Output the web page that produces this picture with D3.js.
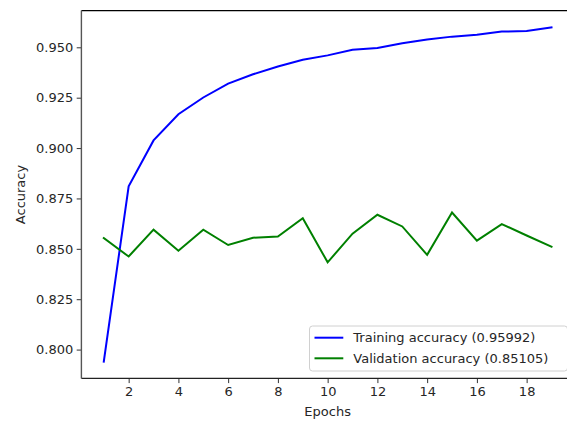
<!DOCTYPE html>
<html>
<head>
<meta charset="utf-8">
<script src="https://cdn.jsdelivr.net/npm/d3@7"></script>
<style>
  html, body { margin: 0; padding: 0; background: #fff; }
  svg { display: block; }
  text { font-family: "DejaVu Sans", sans-serif; fill: #262626; }
</style>
</head>
<body>
<svg id="chart" width="567" height="423"></svg>
<script>
// Accuracy per training epoch
const epochs = d3.range(1, 20);
const trainAcc = [0.7940, 0.8810, 0.9038, 0.9168, 0.9251, 0.9320, 0.9366, 0.9405, 0.9438, 0.9460,
                  0.9488, 0.9497, 0.9520, 0.9539, 0.9553, 0.9562, 0.9578, 0.9581, 0.95992];
const valAcc   = [0.8553, 0.8462, 0.8595, 0.8491, 0.8595, 0.8519, 0.8555, 0.8561, 0.8652, 0.8433,
                  0.8575, 0.8669, 0.8611, 0.8470, 0.8680, 0.8541, 0.8623, 0.8566, 0.85105];
const yTicks = [0.800, 0.825, 0.850, 0.875, 0.900, 0.925, 0.950];
const xTicks = [2, 4, 6, 8, 10, 12, 14, 16, 18];
const seriesNames = ["Training accuracy", "Validation accuracy"];
const seriesColors = ["#0000ff", "#008000"];

const svg = d3.select("#chart");
const plot = { left: 81.4, right: 573.9, top: 10.6, bottom: 378.4 };

// 5% padding around the data range on both axes
const xExt = d3.extent(epochs);
const xPad = (xExt[1] - xExt[0]) * 0.05;
const allY = trainAcc.concat(valAcc);
const yExt = d3.extent(allY);
const yPad = (yExt[1] - yExt[0]) * 0.05;

const x = d3.scaleLinear().domain([xExt[0] - xPad, xExt[1] + xPad]).range([plot.left, plot.right]);
const y = d3.scaleLinear().domain([yExt[0] - yPad, yExt[1] + yPad]).range([plot.bottom, plot.top]);

// Axes
const xAxis = d3.axisBottom(x).tickValues(xTicks).tickSize(4.7).tickPadding(3.5).tickFormat(d3.format("d"));
const yAxis = d3.axisLeft(y).tickValues(yTicks).tickSize(4.7).tickPadding(3.5).tickFormat(d3.format(".3f"));

const gx = svg.append("g").attr("transform", `translate(0,${plot.bottom})`).call(xAxis);
const gy = svg.append("g").attr("transform", `translate(${plot.left},0)`).call(yAxis);
[gx, gy].forEach(g => {
  g.select(".domain").remove();
  g.selectAll(".tick line").attr("stroke", "#333").attr("stroke-width", 1);
  g.selectAll(".tick text").attr("font-size", 13).attr("font-family", "DejaVu Sans, sans-serif").attr("fill", "#262626");
});

// Frame
svg.append("line").attr("x1", plot.left).attr("x2", plot.right).attr("y1", plot.top).attr("y2", plot.top)
  .attr("stroke", "#000").attr("stroke-width", 1.2);
svg.append("line").attr("x1", plot.left).attr("x2", plot.right).attr("y1", plot.bottom).attr("y2", plot.bottom)
  .attr("stroke", "#222").attr("stroke-width", 1.3);
svg.append("line").attr("x1", plot.left).attr("x2", plot.left).attr("y1", plot.top).attr("y2", plot.bottom)
  .attr("stroke", "#555").attr("stroke-width", 1.4);
svg.append("line").attr("x1", plot.right).attr("x2", plot.right).attr("y1", plot.top).attr("y2", plot.bottom)
  .attr("stroke", "#000").attr("stroke-width", 1.2);

// Lines
const line = d3.line().x((d, i) => x(epochs[i])).y(d => y(d));
[trainAcc, valAcc].forEach((vals, k) => {
  svg.append("path").datum(vals).attr("d", line)
    .attr("fill", "none").attr("stroke", seriesColors[k]).attr("stroke-width", 2)
    .attr("stroke-linejoin", "miter").attr("stroke-linecap", "square");
});

// Axis titles
svg.append("text").attr("x", (plot.left + plot.right) / 2).attr("y", 416)
  .attr("text-anchor", "middle").attr("font-size", 13).text("Epochs");
svg.append("text").attr("transform", `translate(24.5,${(plot.top + plot.bottom) / 2}) rotate(-90)`)
  .attr("text-anchor", "middle").attr("font-size", 13).text("Accuracy");

// Legend
const lastVals = [trainAcc[trainAcc.length - 1], valAcc[valAcc.length - 1]];
const lg = svg.append("g");
lg.append("rect").attr("x", 309.5).attr("y", 326).attr("width", 258).attr("height", 45)
  .attr("rx", 3).attr("fill", "#fff").attr("fill-opacity", 0.8).attr("stroke", "#d0d0d0").attr("stroke-width", 1);
seriesNames.forEach((name, k) => {
  const cy = 337.7 + k * 20.6;
  lg.append("line").attr("x1", 314.5).attr("x2", 343.3).attr("y1", cy).attr("y2", cy)
    .attr("stroke", seriesColors[k]).attr("stroke-width", 2);
  lg.append("text").attr("x", 353.3).attr("y", cy + 4.7).attr("font-size", 13)
    .text(`${name} (${d3.format(".5f")(lastVals[k])})`);
});
</script>
</body>
</html>
